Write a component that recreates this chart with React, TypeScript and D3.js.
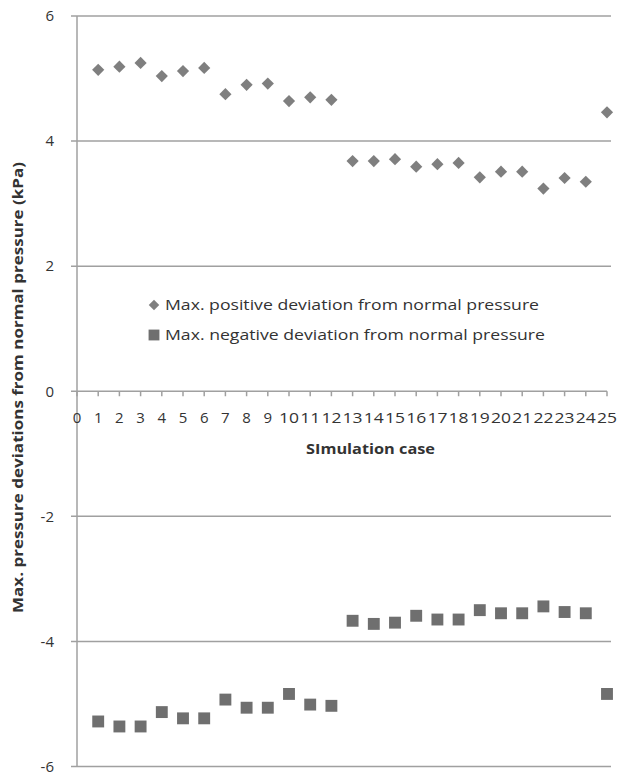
import React from "react";
import * as d3 from "d3";

// Simulation case numbers and peak deviations (kPa)
const cases: number[] = Array.from({ length: 25 }, (_, i) => i + 1);
const positiveDeviation: number[] = [
  5.14, 5.19, 5.25, 5.04, 5.12, 5.17, 4.75, 4.9, 4.92, 4.64, 4.7, 4.66,
  3.68, 3.68, 3.71, 3.59, 3.63, 3.65, 3.42, 3.51, 3.51, 3.24, 3.41, 3.35, 4.46,
];
const negativeDeviation: number[] = [
  -5.28, -5.36, -5.36, -5.13, -5.23, -5.23, -4.93, -5.06, -5.06, -4.84, -5.01, -5.03,
  -3.67, -3.72, -3.7, -3.59, -3.65, -3.65, -3.5, -3.55, -3.55, -3.44, -3.53, -3.55, -4.84,
];
const xTicks: number[] = d3.range(0, 26);
const yTicks: number[] = [-6, -4, -2, 0, 2, 4, 6];
const seriesLabels: string[] = [
  "Max. positive deviation from normal pressure",
  "Max. negative deviation from normal pressure",
];
const xTitle = "SImulation case";
const yTitle = "Max. pressure deviations from normal pressure (kPa)";

const W = 619;
const H = 776;
const FONT = "'Open Sans', 'Liberation Sans', sans-serif";

export default function App() {
  const x = d3.scaleLinear().domain([0, 25]).range([77, 607]);
  const y = d3.scaleLinear().domain([-6, 6]).range([766.5, 16]);

  const gridColor = "#a0a0a0";
  const textColor = "#333";
  const diamondFill = "#7f7f7f";
  const squareFill = "#6f6f6f";

  const diamond = d3.symbol().type(d3.symbolDiamond2).size(95);
  const square = d3.symbol().type(d3.symbolSquare2).size(180);

  return (
    <svg
      width={W}
      height={H}
      style={{ position: "absolute", left: 0, top: 0, background: "#fff" }}
      fontFamily={FONT}
    >
      {/* horizontal gridlines */}
      {yTicks
        .filter((t) => t !== 0)
        .map((t) => (
          <line
            key={`g${t}`}
            x1={71}
            x2={611}
            y1={y(t)}
            y2={y(t)}
            stroke={gridColor}
            strokeWidth={1.5}
          />
        ))}
      {/* vertical axis */}
      <line x1={x(0)} x2={x(0)} y1={y(6)} y2={y(-6)} stroke={gridColor} strokeWidth={1.5} />
      {/* horizontal axis at zero with tick marks */}
      <line x1={71} x2={x(25)} y1={y(0)} y2={y(0)} stroke={gridColor} strokeWidth={1.5} />
      {xTicks.map((t) => (
        <line
          key={`xt${t}`}
          x1={x(t)}
          x2={x(t)}
          y1={y(0)}
          y2={y(0) + 5}
          stroke={gridColor}
          strokeWidth={1.5}
        />
      ))}
      {/* y tick labels */}
      {yTicks.map((t) => (
        <text
          key={`yl${t}`}
          x={54}
          y={y(t)}
          dy="0.35em"
          textAnchor="end"
          fontSize={15}
          fill={textColor}
        >
          {t}
        </text>
      ))}
      {/* x tick labels */}
      {xTicks.map((t) => (
        <text
          key={`xl${t}`}
          x={x(t)}
          y={423}
          textAnchor="middle"
          fontSize={15}
          fill={textColor}
          textLength={t >= 10 ? 20 : undefined}
          lengthAdjust="spacingAndGlyphs"
        >
          {t}
        </text>
      ))}
      {/* axis titles */}
      <text
        x={306}
        y={454}
        fontSize={15}
        fontWeight="bold"
        fill={textColor}
        textLength={129}
        lengthAdjust="spacingAndGlyphs"
      >
        {xTitle}
      </text>
      <text
        transform={`translate(23, 387.5) rotate(-90)`}
        textAnchor="middle"
        fontSize={15}
        fontWeight="bold"
        fill={textColor}
        textLength={451}
        lengthAdjust="spacingAndGlyphs"
      >
        {yTitle}
      </text>

      {/* data markers */}
      {cases.map((c, i) => (
        <path
          key={`p${c}`}
          d={diamond() as string}
          transform={`translate(${x(c)},${y(positiveDeviation[i])})`}
          fill={diamondFill}
        />
      ))}
      {cases.map((c, i) => (
        <path
          key={`n${c}`}
          d={square() as string}
          transform={`translate(${x(c)},${y(negativeDeviation[i])})`}
          fill={squareFill}
        />
      ))}

      {/* legend */}
      <g>
        <path d={d3.symbol().type(d3.symbolDiamond2).size(70)() as string} transform="translate(154,305)" fill={diamondFill} />
        <text
          x={165}
          y={305}
          dy="0.35em"
          fontSize={15}
          fill={textColor}
          textLength={374}
          lengthAdjust="spacingAndGlyphs"
        >
          {seriesLabels[0]}
        </text>
        <path d={d3.symbol().type(d3.symbolSquare2).size(150)() as string} transform="translate(154,335)" fill={squareFill} />
        <text
          x={165}
          y={335}
          dy="0.35em"
          fontSize={15}
          fill={textColor}
          textLength={380}
          lengthAdjust="spacingAndGlyphs"
        >
          {seriesLabels[1]}
        </text>
      </g>
    </svg>
  );
}
